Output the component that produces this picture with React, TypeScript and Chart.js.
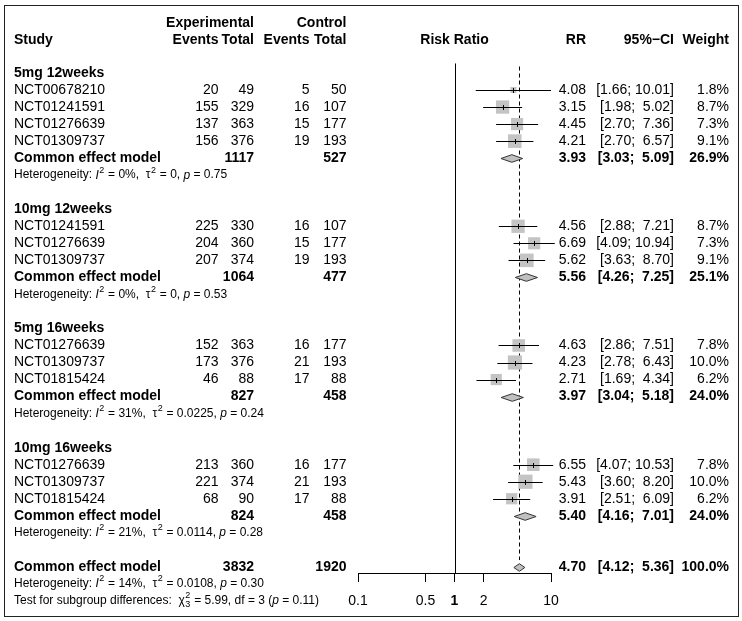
import React, { useEffect, useRef } from "react";
import { Chart, registerables } from "chart.js";
Chart.register(...registerables);

// ---------- data ----------
const groupNames = ["5mg 12weeks", "10mg 12weeks", "5mg 16weeks", "10mg 16weeks"];
const studyGroup = [0, 0, 0, 0, 1, 1, 1, 2, 2, 2, 3, 3, 3];
const studyIds = [
  "NCT00678210", "NCT01241591", "NCT01276639", "NCT01309737",
  "NCT01241591", "NCT01276639", "NCT01309737",
  "NCT01276639", "NCT01309737", "NCT01815424",
  "NCT01276639", "NCT01309737", "NCT01815424",
];
const expEvents = [20, 155, 137, 156, 225, 204, 207, 152, 173, 46, 213, 221, 68];
const expTotal = [49, 329, 363, 376, 330, 360, 374, 363, 376, 88, 360, 374, 90];
const ctrlEvents = [5, 16, 15, 19, 16, 15, 19, 16, 21, 17, 16, 21, 17];
const ctrlTotal = [50, 107, 177, 193, 107, 177, 193, 177, 193, 88, 177, 193, 88];
const rr = [4.08, 3.15, 4.45, 4.21, 4.56, 6.69, 5.62, 4.63, 4.23, 2.71, 6.55, 5.43, 3.91];
const rrLower = [1.66, 1.98, 2.7, 2.7, 2.88, 4.09, 3.63, 2.86, 2.78, 1.69, 4.07, 3.6, 2.51];
const rrUpper = [10.01, 5.02, 7.36, 6.57, 7.21, 10.94, 8.7, 7.51, 6.43, 4.34, 10.53, 8.2, 6.09];
const weights = [1.8, 8.7, 7.3, 9.1, 8.7, 7.3, 9.1, 7.8, 10.0, 6.2, 7.8, 10.0, 6.2];

const groupExpTotal = [1117, 1064, 827, 824];
const groupCtrlTotal = [527, 477, 458, 458];
const groupRR = [3.93, 5.56, 3.97, 5.4];
const groupLower = [3.03, 4.26, 3.04, 4.16];
const groupUpper = [5.09, 7.25, 5.18, 7.01];
const groupWeight = [26.9, 25.1, 24.0, 24.0];
const groupI2 = ["0%", "0%", "31%", "21%"];
const groupTau2 = ["0", "0", "0.0225", "0.0114"];
const groupP = ["0.75", "0.53", "0.24", "0.28"];

const overallExpTotal = 3832;
const overallCtrlTotal = 1920;
const overallRR = 4.7;
const overallLower = 4.12;
const overallUpper = 5.36;
const overallWeight = 100.0;
const overallI2 = "14%";
const overallTau2 = "0.0108";
const overallP = "0.30";
const subgroupChi2 = "5.99";
const subgroupDf = "3";
const subgroupP = "0.11";

const xTicks = [0.1, 0.5, 1, 2, 10];

// ---------- layout ----------
const FONT = '"Liberation Sans", Arial, Helvetica, sans-serif';
const COL_STUDY = 14;
const COL_EXP_EV = 218.5;
const COL_EXP_TOT = 254;
const COL_CTL_EV = 309.5;
const COL_CTL_TOT = 346.5;
const COL_RR = 586;
const COL_CI = 674;
const COL_W = 729;
const ROW0_PX = 73; // pixel of first row
const ROW_PX = 17.03; // pixels per row

type Row = { kind: string; idx: number; row: number };
function buildRows(): Row[] {
  const rows: Row[] = [];
  let r = 0;
  groupNames.forEach((_, g) => {
    rows.push({ kind: "group", idx: g, row: r++ });
    studyGroup.forEach((sg, i) => {
      if (sg === g) rows.push({ kind: "study", idx: i, row: r++ });
    });
    rows.push({ kind: "common", idx: g, row: r++ });
    rows.push({ kind: "het", idx: g, row: r++ });
    r++;
  });
  rows.push({ kind: "overall", idx: 0, row: r++ });
  rows.push({ kind: "overallHet", idx: 0, row: r++ });
  rows.push({ kind: "test", idx: 0, row: r++ });
  return rows;
}
const ROWS = buildRows();

const fmt2 = (v: number) => v.toFixed(2);
const fmtCI = (lo: number, up: number) =>
  "[" + fmt2(lo) + "; " + (up < 10 ? " " : "") + fmt2(up) + "]";
const fmtW = (w: number) => w.toFixed(1) + "%";

type Seg = { t: string; it?: boolean; sup?: string; sub?: string };

function drawRich(ctx: CanvasRenderingContext2D, x: number, y: number, segs: Seg[], size: number) {
  let cx = x;
  ctx.textAlign = "left";
  ctx.textBaseline = "middle";
  segs.forEach((s) => {
    ctx.font = `${s.it ? "italic " : ""}${size}px ${FONT}`;
    ctx.fillText(s.t, cx, y);
    cx += ctx.measureText(s.t).width;
    if (s.sup || s.sub) {
      ctx.font = `${Math.round(size * 0.72)}px ${FONT}`;
      let w = 0;
      if (s.sup) {
        ctx.fillText(s.sup, cx + 0.5, y - 5);
        w = Math.max(w, ctx.measureText(s.sup).width);
      }
      if (s.sub) {
        ctx.fillText(s.sub, cx + 0.5, y + 4);
        w = Math.max(w, ctx.measureText(s.sub).width);
      }
      cx += w + 1;
    }
  });
}

function hetSegs(i2: string, tau2: string, p: string): Seg[] {
  return [
    { t: "Heterogeneity: " },
    { t: "I", it: true, sup: "2" },
    { t: " = " + i2 + ",  " },
    { t: "\u03C4", sup: "2" },
    { t: " = " + tau2 + ", " },
    { t: "p", it: true },
    { t: " = " + p },
  ];
}

const forestPlugin = {
  id: "forest",
  afterLayout(chart: any) {
    // map row index -> pixel: ROW0_PX + ROW_PX * row
    const ys = chart.scales.y;
    const h = ys.bottom - ys.top;
    const min = -(ROW0_PX - ys.top) / ROW_PX;
    ys.min = min;
    ys.max = min + h / ROW_PX;
    ys.configure();
  },
  beforeDatasetsDraw(chart: any) {
    const { ctx, scales, chartArea } = chart;
    const xs = scales.x;
    const ys = scales.y;
    ctx.save();
    ctx.strokeStyle = "#000";
    ctx.lineWidth = 1;
    const x1 = Math.round(xs.getPixelForValue(1)) + 0.5;
    ctx.beginPath();
    ctx.moveTo(x1, ys.getPixelForValue(-0.56));
    ctx.lineTo(x1, chartArea.bottom);
    ctx.stroke();
    const xo = Math.round(xs.getPixelForValue(overallRR)) + 0.5;
    ctx.setLineDash([4, 3]);
    ctx.beginPath();
    ctx.moveTo(xo, ys.getPixelForValue(-0.38));
    ctx.lineTo(xo, ys.getPixelForValue(28.6));
    ctx.stroke();
    ctx.restore();
  },
  afterDatasetsDraw(chart: any) {
    const { ctx, scales } = chart;
    const xs = scales.x;
    const ys = scales.y;
    ctx.save();
    ctx.strokeStyle = "#000";
    ctx.lineWidth = 1;
    ROWS.forEach((r) => {
      const y = Math.round(ys.getPixelForValue(r.row)) + 0.5;
      if (r.kind === "study") {
        const i = r.idx;
        const xl = xs.getPixelForValue(rrLower[i]);
        const xu = xs.getPixelForValue(rrUpper[i]);
        const xe = Math.round(xs.getPixelForValue(rr[i])) + 0.5;
        ctx.beginPath();
        ctx.moveTo(xl, y);
        ctx.lineTo(xu, y);
        ctx.moveTo(xe, y - 2.5);
        ctx.lineTo(xe, y + 2.5);
        ctx.stroke();
      } else if (r.kind === "common" || r.kind === "overall") {
        const lo = r.kind === "common" ? groupLower[r.idx] : overallLower;
        const up = r.kind === "common" ? groupUpper[r.idx] : overallUpper;
        const est = r.kind === "common" ? groupRR[r.idx] : overallRR;
        const xl = xs.getPixelForValue(lo);
        const xu = xs.getPixelForValue(up);
        const xe = xs.getPixelForValue(est);
        const h = 3.8;
        ctx.beginPath();
        ctx.moveTo(xl, y);
        ctx.lineTo(xe, y - h);
        ctx.lineTo(xu, y);
        ctx.lineTo(xe, y + h);
        ctx.closePath();
        ctx.fillStyle = "#c0c0c0";
        ctx.fill();
        ctx.strokeStyle = "#333";
        ctx.stroke();
        ctx.strokeStyle = "#000";
      }
    });
    ctx.restore();
  },
  afterDraw(chart: any) {
    const { ctx, scales } = chart;
    const ys = scales.y;
    const xs = scales.x;
    ctx.save();
    ctx.fillStyle = "#000";
    ctx.textBaseline = "middle";
    const txt = (s: string, x: number, y: number, align: CanvasTextAlign, bold = false, size = 14) => {
      ctx.font = `${bold ? "bold " : ""}${size}px ${FONT}`;
      ctx.textAlign = align;
      ctx.fillText(s, x, y);
    };
    const h1 = ys.getPixelForValue(-2.95);
    const h2 = ys.getPixelForValue(-1.92);
    txt("Experimental", COL_EXP_TOT, h1, "right", true);
    txt("Control", COL_CTL_TOT, h1, "right", true);
    txt("Study", COL_STUDY, h2, "left", true);
    txt("Events", COL_EXP_EV, h2, "right", true);
    txt("Total", COL_EXP_TOT, h2, "right", true);
    txt("Events", COL_CTL_EV, h2, "right", true);
    txt("Total", COL_CTL_TOT, h2, "right", true);
    txt("Risk Ratio", (xs.left + xs.right) / 2, h2, "center", true);
    txt("RR", COL_RR, h2, "right", true);
    txt("95%\u2212CI", COL_CI, h2, "right", true);
    txt("Weight", COL_W, h2, "right", true);

    ROWS.forEach((r) => {
      const y = ys.getPixelForValue(r.row);
      const i = r.idx;
      if (r.kind === "group") {
        txt(groupNames[i], COL_STUDY, y, "left", true);
      } else if (r.kind === "study") {
        txt(studyIds[i], COL_STUDY, y, "left");
        txt(String(expEvents[i]), COL_EXP_EV, y, "right");
        txt(String(expTotal[i]), COL_EXP_TOT, y, "right");
        txt(String(ctrlEvents[i]), COL_CTL_EV, y, "right");
        txt(String(ctrlTotal[i]), COL_CTL_TOT, y, "right");
        txt(fmt2(rr[i]), COL_RR, y, "right");
        txt(fmtCI(rrLower[i], rrUpper[i]), COL_CI, y, "right");
        txt(fmtW(weights[i]), COL_W, y, "right");
      } else if (r.kind === "common") {
        txt("Common effect model", COL_STUDY, y, "left", true);
        txt(String(groupExpTotal[i]), COL_EXP_TOT, y, "right", true);
        txt(String(groupCtrlTotal[i]), COL_CTL_TOT, y, "right", true);
        txt(fmt2(groupRR[i]), COL_RR, y, "right", true);
        txt(fmtCI(groupLower[i], groupUpper[i]), COL_CI, y, "right", true);
        txt(fmtW(groupWeight[i]), COL_W, y, "right", true);
      } else if (r.kind === "het") {
        drawRich(ctx, COL_STUDY, y, hetSegs(groupI2[i], groupTau2[i], groupP[i]), 12);
      } else if (r.kind === "overall") {
        txt("Common effect model", COL_STUDY, y, "left", true);
        txt(String(overallExpTotal), COL_EXP_TOT, y, "right", true);
        txt(String(overallCtrlTotal), COL_CTL_TOT, y, "right", true);
        txt(fmt2(overallRR), COL_RR, y, "right", true);
        txt(fmtCI(overallLower, overallUpper), COL_CI, y, "right", true);
        txt(fmtW(overallWeight), COL_W, y, "right", true);
      } else if (r.kind === "overallHet") {
        drawRich(ctx, COL_STUDY, y, hetSegs(overallI2, overallTau2, overallP), 12);
      } else if (r.kind === "test") {
        drawRich(ctx, COL_STUDY, y, [
          { t: "Test for subgroup differences:  " },
          { t: "\u03C7", sup: "2", sub: subgroupDf },
          { t: " = " + subgroupChi2 + ", df = " + subgroupDf + " (" },
          { t: "p", it: true },
          { t: " = " + subgroupP + ")" },
        ], 12);
      }
    });

    ctx.strokeStyle = "#222";
    ctx.lineWidth = 1;
    ctx.strokeRect(4.5, 5.5, 734, 611);
    ctx.restore();
  },
};

export default function App() {
  const ref = useRef<HTMLCanvasElement | null>(null);
  useEffect(() => {
    document.body.style.margin = "0";
    const canvas = ref.current;
    if (!canvas) return;
    const studyRows = ROWS.filter((r) => r.kind === "study");
    const points = studyRows.map((r) => ({ x: rr[r.idx], y: r.row }));
    const radii = studyRows.map((r) => (4.5 * Math.sqrt(weights[r.idx])) / Math.SQRT2);
    const chart = new Chart(canvas, {
      type: "scatter",
      data: {
        datasets: [
          {
            data: points,
            pointStyle: "rect",
            pointRadius: radii,
            pointHoverRadius: radii,
            backgroundColor: "#c4c4c4",
            borderWidth: 0,
          },
        ],
      },
      options: {
        responsive: false,
        animation: false,
        events: [],
        layout: { padding: { left: 358, right: 191, top: 4, bottom: 0 } },
        plugins: { legend: { display: false }, tooltip: { enabled: false } },
        scales: {
          x: {
            type: "logarithmic",
            min: 0.1,
            max: 10,
            position: "bottom",
            afterBuildTicks: (s: any) => {
              s.ticks = xTicks.map((v) => ({ value: v }));
            },
            afterFit: (s: any) => {
              s.height = 48;
            },
            grid: { drawOnChartArea: false, drawTicks: true, tickLength: 9, color: "#000", lineWidth: 1 },
            border: { display: true, color: "#000", width: 1 },
            ticks: {
              color: "#000",
              padding: 11,
              autoSkip: false,
              maxRotation: 0,
              callback: (v: any) => String(v),
              font: (c: any) => ({
                family: FONT,
                size: 14,
                weight: c.tick && c.tick.value === 1 ? "bold" : "normal",
              }),
            },
          },
          y: {
            type: "linear",
            display: false,
            reverse: true,
            min: -4,
            max: 29.5,
            ticks: { display: false },
          },
        },
      },
      plugins: [forestPlugin],
    } as any);
    return () => chart.destroy();
  }, []);
  return (
    <div style={{ position: "absolute", left: 0, top: 0, width: 742, height: 621, background: "#fff" }}>
      <canvas ref={ref} width={742} height={621} />
    </div>
  );
}
